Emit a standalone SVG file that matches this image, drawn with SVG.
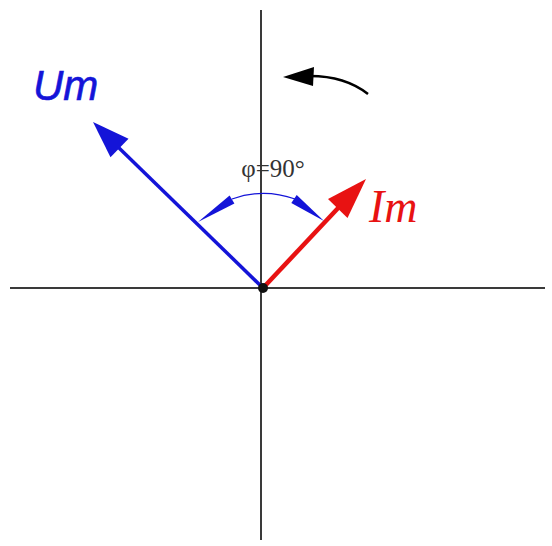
<svg xmlns="http://www.w3.org/2000/svg" width="552" height="546" viewBox="0 0 552 546">
<style>
.axis{stroke:#3a3a3a;stroke-width:2;fill:none}
.blue{stroke:#1414d8;fill:none}
.red{stroke:#e81212;fill:none}
.bf{fill:#1414d8}
.rf{fill:#e81212}
</style>
<rect width="552" height="546" fill="#fff"/>
<g id="connectors">
<line class="axis" x1="261" y1="10" x2="261" y2="540"/>
<line class="axis" x1="10" y1="288" x2="545" y2="288"/>
<line class="blue" stroke-width="3.5" x1="263" y1="288" x2="117" y2="146"/>
<polygon class="bf" points="93,122 128.5,138.7 110.5,157.3"/>
<line class="red" stroke-width="4.5" x1="263" y1="288" x2="340" y2="206"/>
<polygon class="rf" points="366,179 347.5,218 328,199"/>
<path class="blue" stroke-width="1.2" d="M232,199 A94,94 0 0 1 295,199"/>
<polygon class="bf" points="198,222 229.6,195.5 234.4,203.5"/>
<polygon class="bf" points="324,221 291.3,203 296.7,195"/>
<path d="M368,94 Q345,76 310,76" stroke="#000" stroke-width="2.5" fill="none"/>
<polygon points="283,77 314,67 313,86" fill="#000"/>
<circle cx="263" cy="288" r="5" fill="#111"/>
</g>
<g id="Um">
<text x="33" y="100" font-family="Liberation Sans, sans-serif" font-style="italic" font-size="42" fill="#1414d8" stroke="#1414d8" stroke-width="0.6">Um</text>
</g>
<g id="Im">
<text x="369" y="222" font-family="Liberation Serif, serif" font-style="italic" font-size="46" fill="#e81212">Im</text>
</g>
<g id="angle">
<text x="273" y="177" text-anchor="middle" font-family="Liberation Serif, serif" font-size="25" fill="#333">φ=90°</text>
</g>
</svg>
